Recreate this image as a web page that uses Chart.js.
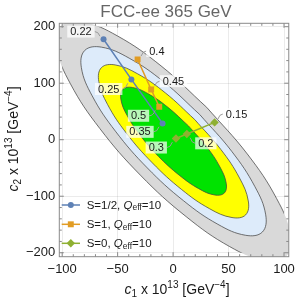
<!DOCTYPE html>
<html lang="en">
<head>
<meta charset="UTF-8">
<title>FCC-ee 365 GeV</title>
<script src="https://cdn.jsdelivr.net/npm/chart.js"></script>
<style>
    html, body { margin: 0; padding: 0; background: #fff; }
    #wrap { width: 300px; height: 299px; }
</style>
</head>
<body>
<div id="wrap"><canvas id="chart" width="300" height="299"></canvas></div>
<script>
// c1, c2 in units of 10^-13 GeV^-4
const spinHalfC1 = [-62.7, -37.6, -9.5];
const spinHalfC2 = [177.8, 106.7, 28.8];
const spinHalfTags = ['0.22', '0.25', '0.35'];

const spinOneC1 = [-32.0, -19.8, -12.5];
const spinOneC2 = [142.2, 88.9, 58.3];
const spinOneTags = ['0.4', '0.45', '0.5'];

const spinZeroC1 = [2.6, 12.4, 37.4];
const spinZeroC2 = [2.1, 10.1, 30.6];
const spinZeroTags = ['0.3', '0.2', '0.15'];

// contour outlines (inner to outer)
const greenC1 = [13.9, -4.7, -22.4, -36.7, -45.4, -47.1, -41.5, -29.6, -13.1, 5.5, 23.2, 37.5, 46.2, 47.9, 42.3, 30.4, 13.9];
const greenC2 = [24.4, 57.4, 81.3, 92.5, 89.1, 71.8, 43.1, 7.5, -29.7, -62.7, -86.7, -97.8, -94.4, -77.1, -48.4, -12.8, 24.4];
const yellowC1 = [19.5, -6.8, -32.0, -52.3, -64.6, -67.0, -59.1, -42.2, -18.7, 7.6, 32.8, 53.1, 65.4, 67.8, 59.9, 43.0, 19.5];
const yellowC2 = [35.7, 82.6, 116.6, 132.4, 127.6, 103.0, 62.4, 11.8, -41.0, -88.0, -122.0, -137.7, -133.0, -108.4, -67.7, -17.1, 35.7];
const lightBlueC1 = [24.0, -8.5, -39.6, -64.6, -79.7, -82.7, -72.9, -52.0, -23.2, 9.3, 40.4, 65.4, 80.5, 83.5, 73.7, 52.8, 24.0];
const lightBlueC2 = [44.6, 102.5, 144.3, 163.8, 157.9, 127.6, 77.4, 15.1, -50.0, -107.8, -149.7, -169.1, -163.3, -132.9, -82.8, -20.4, 44.6];
const grayC1 = [30.3, -10.9, -50.3, -82.0, -101.2, -105.0, -92.6, -66.1, -29.5, 11.7, 51.1, 82.8, 102.0, 105.8, 93.4, 66.9, 30.3];
const grayC2 = [57.3, 130.7, 183.8, 208.5, 201.1, 162.6, 99.0, 19.9, -62.7, -136.0, -189.2, -213.8, -206.4, -167.9, -104.3, -25.2, 57.3];

// plotted region of the contours
const regionC1 = [-100, 100];
const regionC2 = [-200, 200];

const xTicks = [-100, -50, 0, 50, 100];
const yTicks = [-200, -100, 0, 100, 200];
const xMinorTicks = [-90, -80, -70, -60, -40, -30, -20, -10, 10, 20, 30, 40, 60, 70, 80, 90];
const yMinorTicks = [-180, -160, -140, -120, -80, -60, -40, -20, 20, 40, 60, 80, 120, 140, 160, 180];

const FONT = '"Liberation Sans", Arial, sans-serif';
const BLUE = '#5E81B5', ORANGE = '#E19C24', LIME = '#8FB032';

// callout box offsets from the marker (px)
const tagOffsets = [
    [[-22.6, -7.7], [-22.7, 9.6], [-22.6, 8.4]],
    [[19.3, -8.3], [22.3, -8.3], [-20.7, 9]],
    [[-19.7, 9], [19, 9.3], [22, -8.4]]
];

const pts = (xs, ys) => xs.map((x, i) => ({ x: x, y: ys[i] }));

function series(label, xs, ys, color, style, radius) {
    return {
        label: label, data: pts(xs, ys), showLine: true,
        borderColor: color, backgroundColor: color, borderWidth: 1.5,
        pointStyle: style, pointRadius: radius, pointBorderWidth: 0, pointBackgroundColor: color
    };
}

function region(xs, ys, fillColor) {
    return {
        data: pts(xs, ys), showLine: true, isRegion: true, fill: 'shape', tension: 0.4,
        backgroundColor: fillColor, borderColor: 'rgba(70,70,70,0.75)', borderWidth: 1, pointRadius: 0
    };
}

function fmt(v) { return v < 0 ? '\u2212' + Math.abs(v) : String(v); }

function drawRich(ctx, parts, x, y, align) {
    let w = 0;
    parts.forEach(p => { ctx.font = (p[2] ? 'italic ' : '') + p[1] + 'px ' + FONT; w += ctx.measureText(p[0]).width; });
    let cx = align === 'center' ? x - w / 2 : x;
    parts.forEach(p => {
        ctx.font = (p[2] ? 'italic ' : '') + p[1] + 'px ' + FONT;
        ctx.fillText(p[0], cx, y + p[3]);
        cx += ctx.measureText(p[0]).width;
    });
}

const decor = {
    id: 'decor',
    beforeDatasetDraw(chart, args) {
        if (!chart.data.datasets[args.index].isRegion) return;
        const sx = chart.scales.x, sy = chart.scales.y, ctx = chart.ctx;
        const l = sx.getPixelForValue(regionC1[0]), r = sx.getPixelForValue(regionC1[1]);
        const t = sy.getPixelForValue(regionC2[1]), b = sy.getPixelForValue(regionC2[0]);
        ctx.save();
        ctx.beginPath();
        ctx.rect(l, t, r - l, b - t);
        ctx.clip();
    },
    afterDatasetDraw(chart, args) {
        if (chart.data.datasets[args.index].isRegion) chart.ctx.restore();
    },
    afterDatasetsDraw(chart) {
        const ctx = chart.ctx, sx = chart.scales.x, sy = chart.scales.y;
        const groups = [[spinHalfC1, spinHalfC2, spinHalfTags], [spinOneC1, spinOneC2, spinOneTags], [spinZeroC1, spinZeroC2, spinZeroTags]];
        ctx.save();
        ctx.font = '11px ' + FONT;
        ctx.textAlign = 'center';
        ctx.textBaseline = 'middle';
        groups.forEach((g, gi) => {
            g[2].forEach((tag, i) => {
                const px = sx.getPixelForValue(g[0][i]), py = sy.getPixelForValue(g[1][i]);
                const off = tagOffsets[gi][i];
                const bx = px + off[0], by = py + off[1];
                const w = ctx.measureText(tag).width + 6, h = 12;
                const ex = bx + (off[0] < 0 ? w / 2 : -w / 2);
                // leader
                ctx.strokeStyle = '#9a9a9a';
                ctx.lineWidth = 1;
                ctx.beginPath();
                ctx.moveTo(ex, by);
                const tx = ex + (px - ex) * 0.6, ty = by + (py - by) * 0.6;
                ctx.quadraticCurveTo(ex + (px - ex) * 0.4, by, tx, ty);
                ctx.stroke();
                ctx.fillStyle = 'rgba(255,255,255,0.72)';
                ctx.fillRect(bx - w / 2, by - h / 2, w, h);
                ctx.fillStyle = '#1a1a1a';
                ctx.fillText(tag, bx, by + 0.5);
            });
        });
        ctx.restore();
    },
    afterDraw(chart) {
        const ctx = chart.ctx, a = chart.chartArea, sx = chart.scales.x, sy = chart.scales.y;
        ctx.save();
        // frame and inward ticks
        ctx.strokeStyle = '#8a8a8a';
        ctx.lineWidth = 1;
        ctx.strokeRect(a.left, a.top, a.right - a.left, a.bottom - a.top);
        const tick = (vals, len, horiz) => vals.forEach(v => {
            ctx.beginPath();
            if (horiz) {
                const p = sx.getPixelForValue(v);
                ctx.moveTo(p, a.bottom); ctx.lineTo(p, a.bottom - len);
                ctx.moveTo(p, a.top); ctx.lineTo(p, a.top + len);
            } else {
                const p = sy.getPixelForValue(v);
                ctx.moveTo(a.left, p); ctx.lineTo(a.left + len, p);
                ctx.moveTo(a.right, p); ctx.lineTo(a.right - len, p);
            }
            ctx.stroke();
        });
        tick(xTicks, 4.5, true); tick(xMinorTicks, 2.5, true);
        tick(yTicks, 4.5, false); tick(yMinorTicks, 2.5, false);

        // title
        ctx.fillStyle = '#666';
        ctx.font = '17px ' + FONT;
        ctx.textAlign = 'center';
        ctx.textBaseline = 'alphabetic';
        ctx.fillText('FCC-ee 365 GeV', 166, 16.5);

        // axis titles
        ctx.fillStyle = '#1a1a1a';
        ctx.textAlign = 'left';
        drawRich(ctx, [['c', 14, true, 0], ['1', 10, false, 3], [' x 10', 14, false, 0], ['13', 10, false, -6],
            [' [GeV', 14, false, 0], ['\u22124', 10, false, -6], [']', 14, false, 0]], 177, 293.5, 'center');
        ctx.save();
        ctx.translate(17.5, 139);
        ctx.rotate(-Math.PI / 2);
        drawRich(ctx, [['c', 14, true, 0], ['2', 10, false, 3], [' x 10', 14, false, 0], ['13', 10, false, -6],
            [' [GeV', 14, false, 0], ['\u22124', 10, false, -6], [']', 14, false, 0]], 0, 0, 'center');
        ctx.restore();

        // legend
        const items = [[BLUE, 'circle', 'S=1/2, '], [ORANGE, 'rect', 'S=1, '], [LIME, 'rectRot', 'S=0, ']];
        const rows = [205, 224.3, 243.3];
        items.forEach((it, i) => {
            const y = rows[i];
            ctx.strokeStyle = it[0];
            ctx.lineWidth = 1.5;
            ctx.beginPath(); ctx.moveTo(61.7, y); ctx.lineTo(80, y); ctx.stroke();
            ctx.fillStyle = it[0];
            Chart.helpers.drawPoint(ctx, { pointStyle: it[1], radius: it[1] === 'circle' ? 3 : 4.2, borderWidth: 0 }, 70.8, y);
            ctx.fillStyle = '#1a1a1a';
            ctx.textBaseline = 'middle';
            drawRich(ctx, [[it[2], 11.5, false, 0], ['Q', 11.5, true, 0], ['eff', 8.5, false, 2.5], ['=10', 11.5, false, 0]], 86.7, y + 0.5, 'left');
        });
        ctx.restore();
    }
};

new Chart(document.getElementById('chart'), {
    type: 'scatter',
    data: {
        datasets: [
            series('S=1/2, Q_eff=10', spinHalfC1, spinHalfC2, BLUE, 'circle', 3),
            series('S=1, Q_eff=10', spinOneC1, spinOneC2, ORANGE, 'rect', 4.2),
            series('S=0, Q_eff=10', spinZeroC1, spinZeroC2, LIME, 'rectRot', 4.2),
            region(greenC1, greenC2, '#00E300'),
            region(yellowC1, yellowC2, '#FFFF00'),
            region(lightBlueC1, lightBlueC2, '#DDEBFA'),
            region(grayC1, grayC2, '#D9D9D9')
        ]
    },
    options: {
        responsive: false,
        devicePixelRatio: 1,
        animation: false,
        layout: { padding: { left: 0, right: 7.3, top: 23.3, bottom: 0 } },
        plugins: { legend: { display: false }, tooltip: { enabled: false } },
        scales: {
            x: {
                type: 'linear', min: -102.6, max: 104.3,
                afterBuildTicks: s => { s.ticks = xTicks.map(v => ({ value: v })); },
                afterFit: s => { s.height = 42.3; },
                grid: { color: 'rgba(0,0,0,0.08)', drawTicks: false },
                border: { display: false },
                ticks: { font: { family: FONT, size: 13 }, color: '#1a1a1a', padding: 5, autoSkip: false, maxRotation: 0, callback: v => fmt(v) }
            },
            y: {
                type: 'linear', min: -207, max: 206,
                afterBuildTicks: s => { s.ticks = yTicks.map(v => ({ value: v })); },
                afterFit: s => { s.width = 59.3; },
                grid: { color: 'rgba(0,0,0,0.08)', drawTicks: false },
                border: { display: false },
                ticks: { font: { family: FONT, size: 13 }, color: '#1a1a1a', padding: 4, autoSkip: false, callback: v => fmt(v) }
            }
        }
    },
    plugins: [decor]
});
</script>
</body>
</html>
